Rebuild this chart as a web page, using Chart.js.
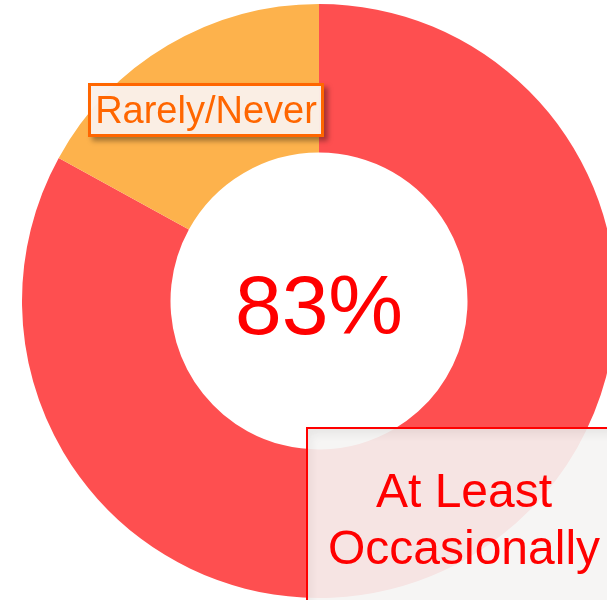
<!DOCTYPE html>
<html>
<head>
<meta charset="utf-8">
<script src="https://cdn.jsdelivr.net/npm/chart.js@4"></script>
<style>
  html, body { margin: 0; padding: 0; background: #fff; overflow: hidden; width: 607px; height: 600px; }
  #wrap { position: absolute; left: 0; top: 4px; width: 638px; height: 594px; }
  .tag { position: absolute; box-sizing: border-box; font-family: "Liberation Sans", Arial, sans-serif; }
  #rare { left: 88px; top: 83px; width: 236px; height: 54px; border: 3px solid #ff6600;
    background: rgba(250, 240, 234, 0.96); color: #ff6600; font-size: 38px; line-height: 49px;
    text-align: center; box-shadow: 4px 4px 5px rgba(0, 0, 0, 0.35); }
  #often { left: 306px; top: 427px; width: 320px; height: 200px; border: 2px solid #ff0000;
    background: rgba(245, 244, 243, 0.9); color: #ff0000; font-size: 48px; line-height: 57px;
    padding: 33px 4px 0 0; text-align: center; box-shadow: inset 3px 6px 8px rgba(0, 0, 0, 0.06); }
</style>
</head>
<body>
<div id="wrap"><canvas id="donut"></canvas></div>
<div class="tag" id="rare">Rarely/Never</div>
<div class="tag" id="often">At Least<br>Occasionally</div>
<script>
const categories = ["At Least Occasionally", "Rarely/Never"];
const shares = [83, 17];
const colors = ["#fe4f50", "#fdb24c"];
const centerLabel = shares[0] + "%";

const centerText = {
  id: "centerText",
  afterDatasetsDraw(chart) {
    const arc = chart.getDatasetMeta(0).data[0];
    const ctx = chart.ctx;
    ctx.save();
    ctx.fillStyle = "#ff0000";
    ctx.font = "84px 'Liberation Sans', Arial, sans-serif";
    ctx.textAlign = "center";
    ctx.textBaseline = "alphabetic";
    ctx.fillText(centerLabel, arc.x, arc.y + 33);
    ctx.restore();
  }
};

new Chart(document.getElementById("donut"), {
  type: "doughnut",
  data: {
    labels: categories,
    datasets: [{
      data: shares,
      backgroundColor: colors,
      borderWidth: 0
    }]
  },
  options: {
    responsive: true,
    maintainAspectRatio: false,
    animation: false,
    cutout: "50%",
    layout: { padding: 0 },
    plugins: {
      legend: { display: false },
      tooltip: { enabled: false }
    }
  },
  plugins: [centerText]
});
</script>
</body>
</html>
